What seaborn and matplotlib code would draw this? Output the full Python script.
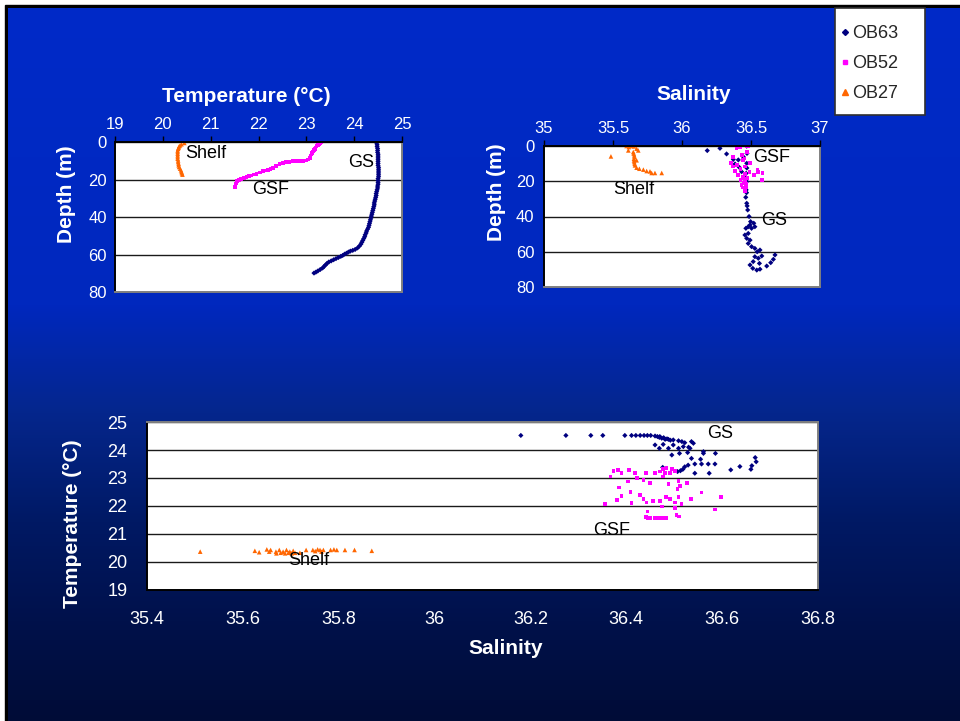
import numpy as np
import pandas as pd
import matplotlib
matplotlib.use("Agg")
import matplotlib.pyplot as plt
import seaborn as sns
from matplotlib.lines import Line2D
from matplotlib.patches import Rectangle
from matplotlib.ticker import FormatStrFormatter, FixedLocator

sns.set_style("white")
plt.rcParams['font.family'] = ['Liberation Sans', 'DejaVu Sans']

# ---------------- data ----------------
stations = ["OB63", "OB52", "OB27"]

# Top-left: temperature vs depth
tl63_depth = [0.5, 1.5, 2.5, 3.5, 4.5, 5.5, 6.5, 7.5, 8.5, 9.5, 10.5, 11.5, 12.5, 13.5, 14.5, 15.5, 16.5, 17.5,
              18.5, 19.5, 20.5, 21.5, 22.5, 23.5, 24.5, 25.5, 26.5, 27.5, 28.5, 29.5, 30.5, 31.5, 32.5, 33.5,
              34.5, 35.5, 36.5, 37.5, 38.5, 39.5, 40.5, 41.5, 42.5, 43.5, 44.5, 45.5, 46.5, 47.5, 48.5, 49.5,
              50.5, 51.5, 52.5, 53.5, 54.5, 55.5, 56.5, 57.3, 57.8, 58.2, 58.7, 59.3, 59.8, 60.5, 61.0, 61.6,
              62.2, 62.8, 63.4, 64.0, 64.8, 65.6, 66.4, 67.2, 68.0, 68.8, 69.4, 69.9]
tl63_temp = [24.47, 24.48, 24.48, 24.49, 24.49, 24.49, 24.50, 24.50, 24.50, 24.50, 24.50, 24.50, 24.50, 24.51,
             24.51, 24.51, 24.51, 24.51, 24.51, 24.50, 24.50, 24.50, 24.50, 24.49, 24.49, 24.48, 24.47, 24.46,
             24.46, 24.45, 24.44, 24.43, 24.42, 24.42, 24.41, 24.40, 24.39, 24.38, 24.37, 24.36, 24.35, 24.34,
             24.33, 24.32, 24.31, 24.30, 24.28, 24.26, 24.25, 24.23, 24.22, 24.20, 24.18, 24.16, 24.14, 24.11,
             24.07, 24.02, 23.97, 23.92, 23.88, 23.84, 23.80, 23.76, 23.72, 23.67, 23.62, 23.57, 23.52, 23.47,
             23.43, 23.40, 23.37, 23.34, 23.29, 23.24, 23.20, 23.16]
tl52_depth = [0.0, 0.5, 1.0, 1.6, 2.3, 3.0, 3.6, 4.3, 5.0, 5.8, 6.6, 7.5, 8.4, 9.3, 9.8, 10.0, 10.1, 10.2, 10.3,
              10.5, 10.7, 11.2, 11.9, 12.8, 13.7, 14.3, 14.8, 15.2, 15.5, 16.2, 16.9, 17.4, 17.8, 18.3, 18.7,
              19.2, 19.6, 20.2, 20.8, 21.5, 22.2, 23.1, 24.0]
tl52_temp = [23.31, 23.29, 23.27, 23.24, 23.21, 23.19, 23.18, 23.16, 23.14, 23.12, 23.11, 23.09, 23.08, 23.03,
             23.00, 22.93, 22.86, 22.79, 22.72, 22.65, 22.58, 22.51, 22.44, 22.37, 22.31, 22.25, 22.20, 22.15,
             22.10, 22.03, 21.96, 21.90, 21.85, 21.80, 21.75, 21.69, 21.64, 21.59, 21.55, 21.54, 21.53, 21.52,
             21.51]
tl27_depth = [0.5, 1.2, 1.8, 2.3, 3.0, 3.6, 4.5, 5.3, 6.2, 7.1, 8.0, 8.9, 9.8, 10.7, 11.6, 12.4, 13.3, 14.2,
              15.1, 16.0, 16.7, 17.4]
tl27_temp = [20.45, 20.39, 20.36, 20.34, 20.33, 20.32, 20.31, 20.31, 20.31, 20.31, 20.31, 20.31, 20.32, 20.32,
             20.33, 20.33, 20.34, 20.36, 20.38, 20.39, 20.40, 20.41]

# Top-right: salinity vs depth
tr63_sal = [36.183, 36.275, 36.323, 36.372, 36.384, 36.415, 36.432, 36.408, 36.444, 36.469, 36.471, 36.469,
            36.465, 36.469, 36.465, 36.462, 36.469, 36.476, 36.486, 36.497, 36.493, 36.504, 36.520, 36.528,
            36.480, 36.469, 36.493, 36.480, 36.504, 36.528, 36.545, 36.565, 36.528, 36.553, 36.516, 36.493,
            36.513, 36.542, 36.565, 36.561, 36.578, 36.674, 36.662, 36.643, 36.614, 36.480, 36.456, 36.463,
            36.470, 36.466, 36.468, 36.472]
tr63_depth = [2.6, 1.3, 4.5, 7.6, 10.2, 12.1, 14.6, 7.9, 6.1, 0.1, 4.2, 9.8, 15.5, 20.2, 24.9, 29.1, 32.5,
              36.3, 40.0, 42.9, 44.8, 46.7, 43.8, 45.8, 49.6, 52.4, 53.4, 55.3, 57.1, 58.1, 60.0, 59.0, 62.8,
              63.7, 65.6, 67.5, 69.4, 70.4, 69.9, 66.6, 62.4, 61.8, 64.3, 66.2, 68.1, 45.8, 50.5, 46.7,
              12.5, 18.0, 26.5, 34.0]
tr52_sal = [36.469, 36.480, 36.395, 36.420, 36.371, 36.437, 36.454, 36.357, 36.400, 36.384, 36.425, 36.457,
            36.493, 36.553, 36.584, 36.578, 36.547, 36.520, 36.442, 36.457, 36.432, 36.444, 36.464, 36.425,
            36.474, 36.489, 36.408, 36.371, 36.442, 36.469, 36.450, 36.460, 36.455, 36.448, 36.462, 36.458]
tr52_depth = [0.0, 0.3, 1.3, 0.8, 6.1, 5.1, 7.0, 9.5, 10.8, 14.0, 13.2, 11.7, 9.8, 14.6, 15.5, 19.3, 13.6,
              16.5, 17.4, 20.2, 22.1, 23.5, 23.1, 19.3, 18.3, 14.6, 16.5, 11.7, 8.1, 3.4, 21.0, 24.5, 25.5,
              18.5, 21.5, 16.0]
tr27_sal = [35.485, 35.598, 35.615, 35.635, 35.652, 35.671, 35.611, 35.647, 35.654, 35.652, 35.654, 35.659,
            35.671, 35.691, 35.720, 35.744, 35.768, 35.780, 35.804, 35.853, 35.683, 35.671, 35.650, 35.655,
            35.652, 35.657]
tr27_depth = [5.9, 0.0, 0.6, 0.0, 0.2, 1.5, 2.5, 3.4, 5.3, 7.2, 9.1, 11.0, 12.3, 12.9, 13.4, 14.2, 14.4,
              15.3, 15.3, 15.3, 2.5, 8.1, 4.3, 6.2, 8.2, 10.1]

# Bottom: T-S diagram
ts63_sal = [36.180, 36.274, 36.326, 36.351, 36.397, 36.411, 36.420, 36.429, 36.437, 36.444, 36.451, 36.460,
            36.465, 36.469, 36.474, 36.481, 36.488, 36.498, 36.509, 36.516, 36.522, 36.536, 36.540, 36.460,
            36.469, 36.477, 36.488, 36.498, 36.509, 36.519, 36.530, 36.533, 36.495, 36.511, 36.528, 36.561,
            36.561, 36.586, 36.536, 36.555, 36.543, 36.557, 36.571, 36.585, 36.529, 36.522, 36.518, 36.513,
            36.507, 36.476, 36.543, 36.573, 36.618, 36.637, 36.660, 36.662, 36.669, 36.671, 36.470, 36.478,
            36.485, 36.492]
ts63_temp = [24.52, 24.52, 24.52, 24.52, 24.52, 24.52, 24.52, 24.52, 24.52, 24.52, 24.52, 24.50, 24.48,
             24.45, 24.42, 24.38, 24.38, 24.36, 24.33, 24.30, 24.26, 24.30, 24.24, 24.18, 24.06, 24.20, 24.06,
             24.18, 24.06, 24.12, 24.10, 24.06, 23.82, 23.88, 23.91, 23.94, 23.88, 23.88, 23.70, 23.67, 23.50,
             23.50, 23.50, 23.50, 23.46, 23.40, 23.31, 23.26, 23.23, 23.38, 23.17, 23.17, 23.29, 23.41, 23.31,
             23.44, 23.73, 23.58, 24.48, 24.44, 24.40, 24.35]
ts52_sal = [36.356, 36.367, 36.373, 36.383, 36.390, 36.406, 36.418, 36.441, 36.460, 36.470, 36.477, 36.484,
            36.495, 36.502, 36.491, 36.481, 36.404, 36.385, 36.409, 36.390, 36.380, 36.411, 36.428, 36.436,
            36.442, 36.456, 36.470, 36.483, 36.491, 36.502, 36.509, 36.515, 36.535, 36.557, 36.597, 36.585,
            36.502, 36.474, 36.444, 36.441, 36.449, 36.459, 36.470, 36.477, 36.484, 36.505, 36.510, 36.422,
            36.436, 36.449, 36.477, 36.488, 36.509, 36.526, 36.507, 36.512, 36.445, 36.463]
ts52_temp = [22.06, 23.05, 23.25, 23.29, 23.19, 23.29, 23.17, 23.19, 23.17, 23.23, 23.31, 23.35, 23.32, 23.25,
             23.19, 23.17, 22.87, 22.66, 22.51, 22.36, 22.21, 22.10, 22.39, 22.24, 22.12, 22.19, 22.19, 22.31,
             22.24, 22.12, 22.31, 22.07, 22.24, 22.48, 22.33, 21.88, 21.92, 21.98, 21.80, 21.60, 21.56, 21.56,
             21.56, 21.56, 21.56, 21.68, 21.62, 22.99, 22.93, 22.81, 23.05, 22.79, 22.89, 22.83, 22.60, 22.71,
             21.58, 21.57]
ts27_sal = [35.511, 35.625, 35.634, 35.650, 35.658, 35.655, 35.669, 35.670, 35.676, 35.679, 35.684, 35.688,
            35.691, 35.695, 35.698, 35.702, 35.705, 35.709, 35.719, 35.732, 35.746, 35.751, 35.756, 35.761,
            35.764, 35.768, 35.783, 35.790, 35.796, 35.813, 35.833, 35.869]
ts27_temp = [20.37, 20.40, 20.35, 20.45, 20.43, 20.37, 20.37, 20.31, 20.43, 20.33, 20.37, 20.31, 20.43, 20.33,
             20.37, 20.31, 20.40, 20.33, 20.33, 20.43, 20.43, 20.39, 20.45, 20.43, 20.37, 20.43, 20.43, 20.45,
             20.43, 20.43, 20.43, 20.40]

temp_ticks = [19, 20, 21, 22, 23, 24, 25]
depth_ticks = [0, 20, 40, 60, 80]
sal_ticks_top = [35, 35.5, 36, 36.5, 37]
sal_ticks_bottom = [35.4, 35.6, 35.8, 36.0, 36.2, 36.4, 36.6, 36.8]

# ---------------- styling ----------------
palette = {"OB63": "#000080", "OB52": "#FF00FF", "OB27": "#FF6600"}
markers = {"OB63": "D", "OB52": "s", "OB27": "^"}
sizes = {"OB63": 7, "OB52": 7, "OB27": 11}


def frame(xs, ys, labels, xname, yname):
    rows = []
    for st, xv, yv in zip(labels, xs, ys):
        rows.append(pd.DataFrame({xname: xv, yname: yv, "station": st}))
    return pd.concat(rows, ignore_index=True)


W, H = 960, 721
fig = plt.figure(figsize=(W / 100, H / 100), dpi=100)


def rect(l, t, r, b):
    return [l / W, 1 - b / H, (r - l) / W, (b - t) / H]


# background
bg = fig.add_axes([0, 0, 1, 1])
bg.add_patch(Rectangle((0, 0), W, H, color="white", zorder=0))
bg.add_patch(Rectangle((5, 5), W, H, color="black", zorder=0.5))
stop_y = np.array([0, 300, 410, 520, 620, 721]) / 721
stop_c = np.array([[0, 42, 200], [0, 40, 190], [5, 38, 140], [0, 25, 100], [0, 17, 75], [0, 12, 55]]) / 255
yy = np.linspace(0, 1, 400)
grad = np.stack([np.interp(yy, stop_y, stop_c[:, i]) for i in range(3)], axis=-1)[:, None, :]
bg.imshow(grad, extent=(7.5, W, H, 8), aspect="auto", interpolation="bilinear", zorder=1)
# legend box
bg.add_patch(Rectangle((835, 8), 90, 107, facecolor="white", edgecolor="#303030", lw=1.2, zorder=3))
bg.set_xlim(0, W)
bg.set_ylim(H, 0)
bg.axis("off")


def style_axes(ax, top_axis, tick_fs):
    ax.set_facecolor("white")
    ax.yaxis.grid(True, color="#1a1a1a", lw=1.0)
    ax.xaxis.grid(False)
    ax.set_axisbelow(True)
    for s in ["left", "right", "top", "bottom"]:
        ax.spines[s].set_visible(True)
        ax.spines[s].set_linewidth(1.4)
        ax.spines[s].set_color("#808080")
    ax.spines["left"].set_color("black")
    if top_axis:
        ax.xaxis.tick_top()
        ax.xaxis.set_label_position("top")
        ax.spines["top"].set_color("black")
    else:
        ax.spines["bottom"].set_color("black")
    ax.tick_params(axis="both", which="major", direction="out", length=4, width=1, color="black",
                   labelcolor="white", labelsize=tick_fs)


lab_kw = dict(color="white", fontsize=15, fontweight="bold", va="center", ha="center")

# ---- top-left ----
ax1 = fig.add_axes(rect(115, 142, 402, 292))
df1 = frame([tl63_temp, tl52_temp, tl27_temp], [tl63_depth, tl52_depth, tl27_depth], stations, "Temperature", "Depth")
sns.scatterplot(data=df1, x="Temperature", y="Depth", hue="station", style="station", size="station",
                palette=palette, markers=markers, sizes=sizes, linewidth=0, legend=False, ax=ax1)
style_axes(ax1, True, 12)
ax1.set_xlim(19, 25)
ax1.set_ylim(80, 0)
ax1.xaxis.set_major_locator(FixedLocator(temp_ticks))
ax1.yaxis.set_major_locator(FixedLocator(depth_ticks))
ax1.xaxis.set_major_formatter(FormatStrFormatter("%g"))
ax1.tick_params(axis="x", pad=3)
ax1.tick_params(axis="y", pad=2)
ax1.set_xlabel("Temperature (°C)", **lab_kw)
ax1.xaxis.set_label_coords((246 - 115) / 287, (292 - 96) / 150)
ax1.set_ylabel("Depth (m)", **lab_kw)
ax1.yaxis.set_label_coords((67 - 115) / 287, (292 - 194) / 150)
ax1.text(20.46, 6, "Shelf", fontsize=13, va="center", ha="left", color="black")
ax1.text(21.86, 25.6, "GSF", fontsize=13, va="center", ha="left", color="black")
ax1.text(23.87, 10.7, "GS", fontsize=13, va="center", ha="left", color="black")

# ---- top-right ----
ax2 = fig.add_axes(rect(544, 146, 820, 287))
df2 = frame([tr63_sal, tr52_sal, tr27_sal], [tr63_depth, tr52_depth, tr27_depth], stations, "Salinity", "Depth")
sns.scatterplot(data=df2, x="Salinity", y="Depth", hue="station", style="station", size="station",
                palette=palette, markers=markers, sizes=sizes, linewidth=0, legend=False, ax=ax2)
style_axes(ax2, True, 12)
ax2.set_xlim(35, 37)
ax2.set_ylim(80, 0)
ax2.xaxis.set_major_locator(FixedLocator(sal_ticks_top))
ax2.yaxis.set_major_locator(FixedLocator(depth_ticks))
ax2.xaxis.set_major_formatter(FormatStrFormatter("%g"))
ax2.tick_params(axis="x", pad=3)
ax2.tick_params(axis="y", pad=3)
ax2.set_xlabel("Salinity", **lab_kw)
ax2.xaxis.set_label_coords((694 - 544) / 276, (287 - 95) / 141)
ax2.set_ylabel("Depth (m)", **lab_kw)
ax2.yaxis.set_label_coords((497 - 544) / 276, (287 - 192) / 141)
ax2.text(35.50, 24.4, "Shelf", fontsize=13, va="center", ha="left", color="black")
ax2.text(36.515, 6.5, "GSF", fontsize=13, va="center", ha="left", color="black")
ax2.text(36.57, 42.3, "GS", fontsize=13, va="center", ha="left", color="black")

# ---- bottom ----
ax3 = fig.add_axes(rect(147, 422, 818, 590))
df3 = frame([ts63_sal, ts52_sal, ts27_sal], [ts63_temp, ts52_temp, ts27_temp], stations, "Salinity", "Temperature")
sns.scatterplot(data=df3, x="Salinity", y="Temperature", hue="station", style="station", size="station",
                palette=palette, markers=markers, sizes=sizes, linewidth=0, legend=False, ax=ax3)
style_axes(ax3, False, 13)
ax3.set_xlim(35.4, 36.8)
ax3.set_ylim(19, 25)
ax3.xaxis.set_major_locator(FixedLocator(sal_ticks_bottom))
ax3.yaxis.set_major_locator(FixedLocator(temp_ticks))
ax3.xaxis.set_major_formatter(FormatStrFormatter("%g"))
ax3.tick_params(axis="x", pad=11)
ax3.tick_params(axis="y", pad=10)
ax3.set_xlabel("Salinity", **lab_kw)
ax3.xaxis.set_label_coords((506 - 147) / 671, (590 - 649) / 168)
ax3.set_ylabel("Temperature (°C)", **lab_kw)
ax3.yaxis.set_label_coords((73 - 147) / 671, (590 - 524) / 168)
ax3.text(36.568, 24.59, "GS", fontsize=13, va="center", ha="left", color="black")
ax3.text(36.331, 21.11, "GSF", fontsize=13, va="center", ha="left", color="black")
ax3.text(35.695, 20.07, "Shelf", fontsize=13, va="center", ha="left", color="black")

# ---- legend ----
handles = [Line2D([], [], linestyle="none", marker=markers[s], color=palette[s], markersize=3 if s != "OB27" else 4)
           for s in stations]
leg = fig.legend(handles, stations, loc="upper left", bbox_to_anchor=(840 / W, 1 - 25 / H),
                 bbox_transform=fig.transFigure, frameon=False, fontsize=13,
                 handlelength=0.5, handletextpad=0.15, borderpad=0, labelspacing=0.72, borderaxespad=0)
leg.set_zorder(10)

fig.savefig("out.png", dpi=100)
